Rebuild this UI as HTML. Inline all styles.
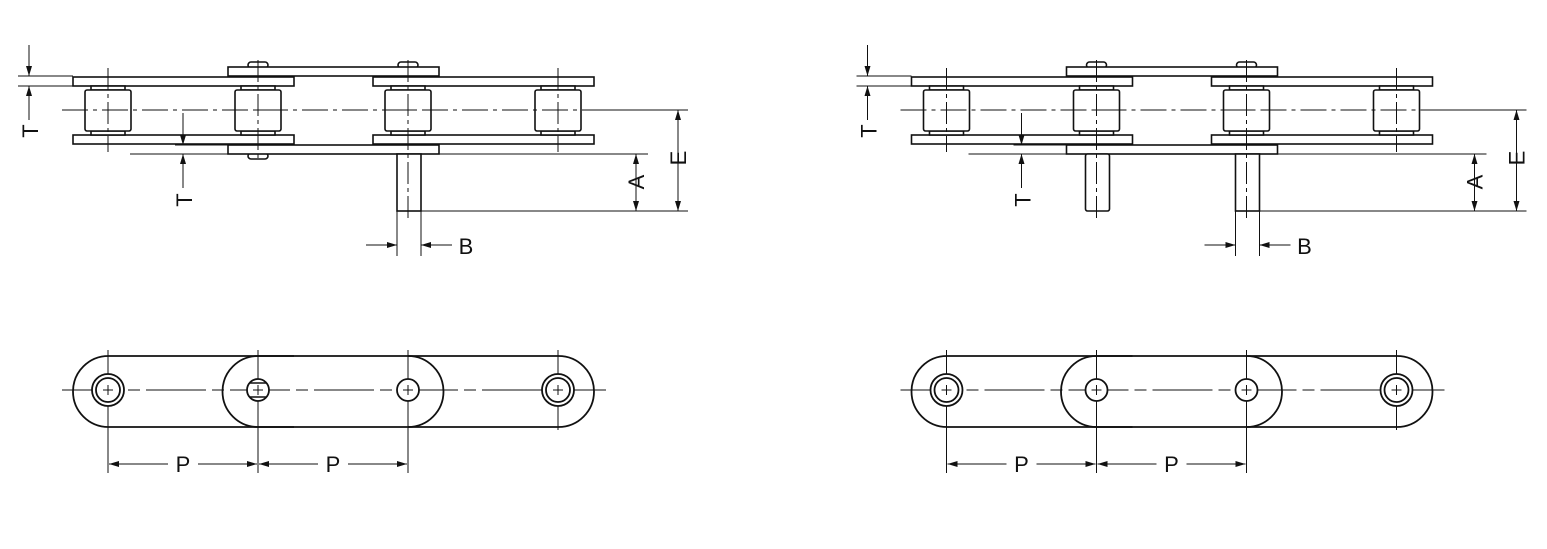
<!DOCTYPE html>
<html><head><meta charset="utf-8"><style>
html,body{margin:0;padding:0;background:#fff;}
svg{display:block;}
text{font-family:"Liberation Sans",sans-serif;font-size:22px;fill:#111;}
</style></head><body>
<svg width="1547" height="549" viewBox="0 0 1547 549" xmlns="http://www.w3.org/2000/svg">
<defs>
<marker id="ar" viewBox="0 0 10 6" refX="10" refY="3" markerWidth="10" markerHeight="6" orient="auto" markerUnits="userSpaceOnUse"><path d="M0,0 L10,3 L0,6 z" fill="#111"/></marker>
</defs>
<g stroke="#111" fill="none" stroke-width="1.6">
<!-- ===== LEFT DIAGRAM ===== -->
<g>
<rect x="248" y="62" width="20" height="6" rx="3" fill="#fff"/>
<rect x="398" y="62" width="20" height="6" rx="3" fill="#fff"/>
<rect x="248" y="153" width="20" height="6" rx="3" fill="#fff"/>
<rect x="228" y="67" width="211" height="9" fill="#fff"/>
<rect x="73" y="77" width="221" height="9" fill="#fff"/>
<rect x="373" y="77" width="221" height="9" fill="#fff"/>
<rect x="73" y="135" width="221" height="9" fill="#fff"/>
<rect x="373" y="135" width="221" height="9" fill="#fff"/>
<rect x="228" y="145" width="211" height="9" fill="#fff"/>
<g fill="#fff">
<rect x="91" y="86" width="34" height="4"/><rect x="91" y="131" width="34" height="4"/><rect x="85" y="90" width="46" height="41" rx="2"/>
<rect x="241" y="86" width="34" height="4"/><rect x="241" y="131" width="34" height="4"/><rect x="235" y="90" width="46" height="41" rx="2"/>
<rect x="391" y="86" width="34" height="4"/><rect x="391" y="131" width="34" height="4"/><rect x="385" y="90" width="46" height="41" rx="2"/>
<rect x="541" y="86" width="34" height="4"/><rect x="541" y="131" width="34" height="4"/><rect x="535" y="90" width="46" height="41" rx="2"/>
</g>
<rect x="397" y="154" width="24" height="57" fill="#fff"/>
</g>
<g stroke-width="1.8">
<path d="M108.5 356 H294 M108.5 427 H294 M108.5 356 A35.5 35.5 0 0 0 108.5 427"/>
<path d="M408 356 H558.5 A35.5 35.5 0 0 1 558.5 427 H408"/>
<path d="M258 356 H408 A35.5 35.5 0 0 1 408 427 H258 A35.5 35.5 0 0 1 258 356 Z"/>
</g>
<g stroke-width="1">
<path d="M62 110 H688" stroke-dasharray="26,5,4,5"/>
<path d="M108 68 V152 M258 60 V160 M408 60 V218 M558 68 V152" stroke-dasharray="22,4,4,4"/>
<path d="M18 76 H73 M18 86 H73"/>
<path d="M29 45 V76" marker-end="url(#ar)"/><path d="M29 120 V86" marker-end="url(#ar)"/>
<path d="M175 145 H228 M130 154 H228"/>
<path d="M183 113 V145" marker-end="url(#ar)"/><path d="M183 188 V154" marker-end="url(#ar)"/>
<path d="M439 154 H648 M421 211 H688 M594 110 H688"/>
<path d="M636 183 V154" marker-end="url(#ar)"/><path d="M636 183 V211" marker-end="url(#ar)"/>
<path d="M678 158 V110" marker-end="url(#ar)"/><path d="M678 158 V211" marker-end="url(#ar)"/>
<path d="M397 211 V256 M421 211 V256"/>
<path d="M366 245 H397" marker-end="url(#ar)"/><path d="M452 245 H421" marker-end="url(#ar)"/>
<path d="M62 390 H606" stroke-dasharray="60,6,12,6"/>
<path d="M108 350 V473 M258 350 V473 M408 350 V473 M558 350 V430"/>
<path d="M168 464 H109" marker-end="url(#ar)"/><path d="M198 464 H257" marker-end="url(#ar)"/>
<path d="M318 464 H259" marker-end="url(#ar)"/><path d="M348 464 H407" marker-end="url(#ar)"/>
</g>
<g stroke-width="1.8" fill="#fff">
<circle cx="108" cy="390" r="16"/><circle cx="108" cy="390" r="12"/>
<circle cx="558" cy="390" r="16"/><circle cx="558" cy="390" r="12"/>
<circle cx="408" cy="390" r="11"/>
<circle cx="258" cy="390" r="11"/>
<path d="M250 383 H266 M250 397 H266" stroke-width="1.4"/>
</g>
<g stroke-width="1">
<path d="M103 390 H113 M108 385 V395 M553 390 H563 M558 385 V395 M403 390 H413 M408 385 V395 M253 390 H263 M258 385 V395"/>
<path d="M103 110 H113 M108 105 V115 M253 110 H263 M258 105 V115 M403 110 H413 M408 105 V115 M553 110 H563 M558 105 V115"/>
</g>

<!-- ===== RIGHT DIAGRAM ===== -->
<g transform="translate(838.5,0)">
<g stroke-width="1.6">
<rect x="248" y="62" width="20" height="6" rx="3" fill="#fff"/>
<rect x="398" y="62" width="20" height="6" rx="3" fill="#fff"/>
<rect x="228" y="67" width="211" height="9" fill="#fff"/>
<rect x="73" y="77" width="221" height="9" fill="#fff"/>
<rect x="373" y="77" width="221" height="9" fill="#fff"/>
<rect x="73" y="135" width="221" height="9" fill="#fff"/>
<rect x="373" y="135" width="221" height="9" fill="#fff"/>
<rect x="228" y="145" width="211" height="9" fill="#fff"/>
<g fill="#fff">
<rect x="91" y="86" width="34" height="4"/><rect x="91" y="131" width="34" height="4"/><rect x="85" y="90" width="46" height="41" rx="2"/>
<rect x="241" y="86" width="34" height="4"/><rect x="241" y="131" width="34" height="4"/><rect x="235" y="90" width="46" height="41" rx="2"/>
<rect x="391" y="86" width="34" height="4"/><rect x="391" y="131" width="34" height="4"/><rect x="385" y="90" width="46" height="41" rx="2"/>
<rect x="541" y="86" width="34" height="4"/><rect x="541" y="131" width="34" height="4"/><rect x="535" y="90" width="46" height="41" rx="2"/>
</g>
<rect x="247" y="154" width="24" height="57" rx="2" fill="#fff"/>
<rect x="397" y="154" width="24" height="57" fill="#fff"/>
</g>
<g stroke-width="1.8">
<path d="M108.5 356 H294 M108.5 427 H294 M108.5 356 A35.5 35.5 0 0 0 108.5 427"/>
<path d="M408 356 H558.5 A35.5 35.5 0 0 1 558.5 427 H408"/>
<path d="M258 356 H408 A35.5 35.5 0 0 1 408 427 H258 A35.5 35.5 0 0 1 258 356 Z"/>
</g>
<g stroke-width="1">
<path d="M62 110 H688" stroke-dasharray="26,5,4,5"/>
<path d="M108 68 V152 M258 60 V218 M408 60 V218 M558 68 V152" stroke-dasharray="22,4,4,4"/>
<path d="M18 76 H73 M18 86 H73"/>
<path d="M29 45 V76" marker-end="url(#ar)"/><path d="M29 120 V86" marker-end="url(#ar)"/>
<path d="M175 145 H228 M130 154 H228"/>
<path d="M183 113 V145" marker-end="url(#ar)"/><path d="M183 188 V154" marker-end="url(#ar)"/>
<path d="M439 154 H648 M421 211 H688 M594 110 H688"/>
<path d="M636 183 V154" marker-end="url(#ar)"/><path d="M636 183 V211" marker-end="url(#ar)"/>
<path d="M678 158 V110" marker-end="url(#ar)"/><path d="M678 158 V211" marker-end="url(#ar)"/>
<path d="M397 211 V256 M421 211 V256"/>
<path d="M366 245 H397" marker-end="url(#ar)"/><path d="M452 245 H421" marker-end="url(#ar)"/>
<path d="M62 390 H606" stroke-dasharray="60,6,12,6"/>
<path d="M108 350 V473 M258 350 V473 M408 350 V473 M558 350 V430"/>
<path d="M168 464 H109" marker-end="url(#ar)"/><path d="M198 464 H257" marker-end="url(#ar)"/>
<path d="M318 464 H259" marker-end="url(#ar)"/><path d="M348 464 H407" marker-end="url(#ar)"/>
</g>
<g stroke-width="1.8" fill="#fff">
<circle cx="108" cy="390" r="16"/><circle cx="108" cy="390" r="12"/>
<circle cx="558" cy="390" r="16"/><circle cx="558" cy="390" r="12"/>
<circle cx="408" cy="390" r="11"/>
<circle cx="258" cy="390" r="11"/>
</g>
<g stroke-width="1">
<path d="M103 390 H113 M108 385 V395 M553 390 H563 M558 385 V395 M403 390 H413 M408 385 V395 M253 390 H263 M258 385 V395"/>
<path d="M103 110 H113 M108 105 V115 M253 110 H263 M258 105 V115 M403 110 H413 M408 105 V115 M553 110 H563 M558 105 V115"/>
</g>
</g>
</g>

<text x="0" y="0" transform="translate(38,131) rotate(-90)" text-anchor="middle">T</text>
<text x="0" y="0" transform="translate(192,200) rotate(-90)" text-anchor="middle">T</text>
<text x="0" y="0" transform="translate(644,182) rotate(-90)" text-anchor="middle">A</text>
<text x="0" y="0" transform="translate(686,158) rotate(-90)" text-anchor="middle">E</text>
<text x="466" y="254" text-anchor="middle">B</text>
<text x="183" y="472" text-anchor="middle">P</text>
<text x="333" y="472" text-anchor="middle">P</text>
<text x="0" y="0" transform="translate(876.5,131) rotate(-90)" text-anchor="middle">T</text>
<text x="0" y="0" transform="translate(1030.5,200) rotate(-90)" text-anchor="middle">T</text>
<text x="0" y="0" transform="translate(1482.5,182) rotate(-90)" text-anchor="middle">A</text>
<text x="0" y="0" transform="translate(1524.5,158) rotate(-90)" text-anchor="middle">E</text>
<text x="1304.5" y="254" text-anchor="middle">B</text>
<text x="1021.5" y="472" text-anchor="middle">P</text>
<text x="1171.5" y="472" text-anchor="middle">P</text>
</svg>
</body></html>
